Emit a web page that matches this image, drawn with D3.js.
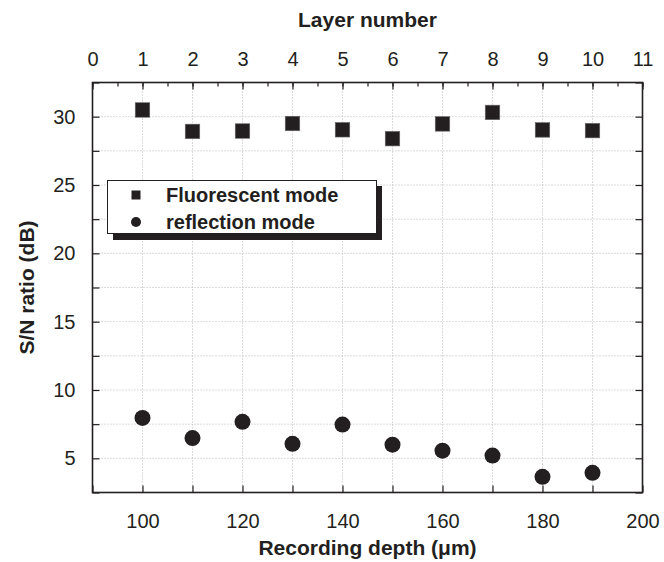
<!DOCTYPE html>
<html>
<head>
<meta charset="utf-8">
<script src="https://cdn.jsdelivr.net/npm/d3@7"></script>
<style>
  body { margin: 0; background: #fff; }
  svg { display: block; font-family: "Liberation Sans", Arial, sans-serif; }
  .tick text { fill: #231f20; }
</style>
</head>
<body>
<svg id="chart" width="664" height="562"></svg>
<script>
// values
var depths = [100, 110, 120, 130, 140, 150, 160, 170, 180, 190];
var fluorescent = [30.49, 28.92, 28.95, 29.5, 29.04, 28.39, 29.47, 30.31, 29.03, 28.98];
var reflection = [7.96, 6.48, 7.67, 6.06, 7.47, 6.0, 5.56, 5.2, 3.65, 3.94];
var depthTicks = [100, 120, 140, 160, 180, 200];
var layerTicks = [0, 1, 2, 3, 4, 5, 6, 7, 8, 9, 10, 11];
var snTicks = [5, 10, 15, 20, 25, 30];
var legendLabels = ["Fluorescent mode", "reflection mode"];

var ink = "#231f20";
var plot = { left: 92.5, right: 642.5, top: 82.5, bottom: 492.5 };

var svg = d3.select("#chart");

var x = d3.scaleLinear().domain([90, 200]).range([plot.left, plot.right]);
var layer = d3.scaleLinear().domain([0, 11]).range([plot.left, plot.right]);
var y = d3.scaleLinear().domain([2.5, 32.5]).range([plot.bottom, plot.top]);

var xMinor = d3.range(90, 201, 10);
var layerMinor = d3.range(0, 11.01, 0.5);
var yMinor = d3.range(2.5, 32.51, 2.5);

// dotted grid
var grid = svg.append("g").attr("stroke", "#b8b8b8").attr("stroke-width", 1)
  .attr("stroke-dasharray", "1,2");
grid.selectAll(".gx").data(xMinor.slice(1, -1)).enter().append("line")
  .attr("x1", d => x(d)).attr("x2", d => x(d))
  .attr("y1", plot.top).attr("y2", plot.bottom);
grid.selectAll(".gy").data(yMinor.slice(1, -1)).enter().append("line")
  .attr("x1", plot.left).attr("x2", plot.right)
  .attr("y1", d => y(d)).attr("y2", d => y(d));

// axes, ticks pointing inward
function styleAxis(g) {
  g.select(".domain").remove();
  g.selectAll(".tick line").attr("stroke", ink).attr("stroke-width", 1.2);
  g.selectAll(".tick text").attr("font-size", 20);
}

svg.append("g").attr("transform", `translate(0,${plot.bottom})`)
  .call(d3.axisBottom(x).tickValues(xMinor).tickSize(-7).tickFormat(""))
  .call(styleAxis);
svg.append("g").attr("transform", `translate(0,${plot.bottom})`)
  .call(d3.axisBottom(x).tickValues(depthTicks).tickSize(0).tickPadding(21))
  .call(styleAxis);

svg.append("g").attr("transform", `translate(0,${plot.top})`)
  .call(d3.axisTop(layer).tickValues(layerMinor).tickSize(-4).tickFormat(""))
  .call(styleAxis);
svg.append("g").attr("transform", `translate(0,${plot.top})`)
  .call(d3.axisTop(layer).tickValues(layerTicks).tickSize(-7).tickPadding(17))
  .call(styleAxis);

svg.append("g").attr("transform", `translate(${plot.left},0)`)
  .call(d3.axisLeft(y).tickValues(yMinor).tickSize(-7).tickFormat(""))
  .call(styleAxis);
svg.append("g").attr("transform", `translate(${plot.left},0)`)
  .call(d3.axisLeft(y).tickValues(snTicks).tickSize(0).tickPadding(17))
  .call(styleAxis);

svg.append("g").attr("transform", `translate(${plot.right},0)`)
  .call(d3.axisRight(y).tickValues(yMinor).tickSize(-7).tickFormat(""))
  .call(styleAxis);

// frame
svg.append("rect")
  .attr("x", plot.left).attr("y", plot.top)
  .attr("width", plot.right - plot.left).attr("height", plot.bottom - plot.top)
  .attr("fill", "none").attr("stroke", ink).attr("stroke-width", 1.6);

// data
var sq = 14.5;
svg.append("g").selectAll("rect").data(depths).enter().append("rect")
  .attr("x", (d, i) => x(d) - sq / 2)
  .attr("y", (d, i) => y(fluorescent[i]) - sq / 2)
  .attr("width", sq).attr("height", sq)
  .attr("fill", ink).attr("stroke", "#666").attr("stroke-width", 0.6);

svg.append("g").selectAll("circle").data(depths).enter().append("circle")
  .attr("cx", d => x(d))
  .attr("cy", (d, i) => y(reflection[i]))
  .attr("r", 8)
  .attr("fill", ink);

// legend with drop shadow
var leg = svg.append("g");
leg.append("rect").attr("x", 113).attr("y", 186).attr("width", 269).attr("height", 54)
  .attr("fill", ink);
leg.append("rect").attr("x", 107.5).attr("y", 180.5).attr("width", 269).attr("height", 53)
  .attr("fill", "#fff").attr("stroke", ink).attr("stroke-width", 1);
leg.append("rect").attr("x", 131.5).attr("y", 190.5).attr("width", 9).attr("height", 9)
  .attr("fill", ink);
leg.append("circle").attr("cx", 136).attr("cy", 222).attr("r", 5).attr("fill", ink);
leg.selectAll("text").data(legendLabels).enter().append("text")
  .attr("x", 166).attr("y", (d, i) => 202 + i * 26.5)
  .attr("font-size", 20).attr("font-weight", "bold").attr("fill", ink)
  .text(d => d);

// titles
svg.append("text").attr("x", (plot.left + plot.right) / 2).attr("y", 27)
  .attr("text-anchor", "middle").attr("font-size", 21).attr("font-weight", "bold")
  .attr("fill", ink).text("Layer number");
svg.append("text").attr("x", (plot.left + plot.right) / 2).attr("y", 555)
  .attr("text-anchor", "middle").attr("font-size", 21).attr("font-weight", "bold")
  .attr("fill", ink).text("Recording depth (\u03bcm)");
svg.append("text")
  .attr("transform", `translate(34,${(plot.top + plot.bottom) / 2}) rotate(-90)`)
  .attr("text-anchor", "middle").attr("font-size", 21).attr("font-weight", "bold")
  .attr("fill", ink).text("S/N ratio (dB)");
</script>
</body>
</html>
